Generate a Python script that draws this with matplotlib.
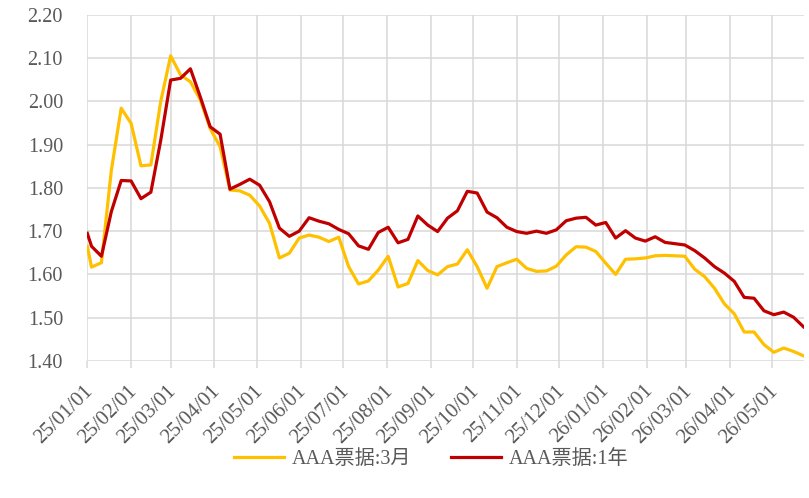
import matplotlib.pyplot as plt
import matplotlib.dates as mdates
from matplotlib.transforms import ScaledTranslation
import pandas as pd

# weekly dates: first point on 25/01/01, then weekly
dates = pd.DatetimeIndex(["2025-01-01"]).append(
    pd.date_range("2025-01-04", periods=73, freq="7D")
)

bill_3m = [
    1.665, 1.617, 1.627, 1.840, 1.984, 1.949, 1.851, 1.853, 2.000, 2.105,
    2.061, 2.045, 2.003, 1.937, 1.895, 1.795, 1.793, 1.783, 1.758, 1.718,
    1.638, 1.649, 1.684, 1.691, 1.686, 1.676, 1.686, 1.618, 1.578, 1.585,
    1.610, 1.642, 1.571, 1.579, 1.632, 1.609, 1.599, 1.618, 1.624, 1.657,
    1.618, 1.568, 1.618, 1.627, 1.635, 1.614, 1.607, 1.608, 1.619, 1.645,
    1.664, 1.663, 1.653, 1.626, 1.600, 1.635, 1.636, 1.638, 1.643, 1.644,
    1.643, 1.642, 1.612, 1.595, 1.568, 1.532, 1.509, 1.467, 1.467, 1.438,
    1.420, 1.430, 1.422, 1.412,
]

bill_1y = [
    1.695, 1.665, 1.642, 1.745, 1.817, 1.816, 1.775, 1.790, 1.910, 2.049,
    2.053, 2.075, 2.010, 1.941, 1.924, 1.797, 1.808, 1.820, 1.806, 1.768,
    1.707, 1.688, 1.700, 1.731, 1.723, 1.717, 1.704, 1.694, 1.666, 1.658,
    1.697, 1.709, 1.673, 1.681, 1.735, 1.714, 1.699, 1.730, 1.747, 1.792,
    1.788, 1.744, 1.731, 1.709, 1.699, 1.695, 1.700, 1.695, 1.703, 1.724,
    1.730, 1.732, 1.714, 1.720, 1.684, 1.701, 1.684, 1.677, 1.687, 1.674,
    1.671, 1.668, 1.655, 1.638, 1.618, 1.603, 1.584, 1.547, 1.545, 1.516,
    1.507, 1.513, 1.501, 1.479,
]

labels = ["AAA票据:3月", "AAA票据:1年"]

plt.rcParams["font.family"] = ["Liberation Serif", "Noto Sans CJK SC"]

fig = plt.figure(figsize=(8.09, 4.98), dpi=100)
ax = fig.add_axes([87.3 / 809, 1 - 361 / 498, (803.5 - 87.3) / 809, (361 - 14.7) / 498])

ax.plot(dates, bill_3m, color="#FFC000", lw=2.3, label=labels[0], zorder=3)
ax.plot(dates, bill_1y, color="#C00000", lw=2.3, label=labels[1], zorder=4)

ax.set_ylim(1.40, 2.20)
ax.set_yticks([1.40 + 0.1 * i for i in range(9)])
ax.yaxis.set_major_formatter(plt.FuncFormatter(lambda v, p: f"{v:.2f}"))
ax.set_xlim(dates[0], dates[-1])
ax.xaxis.set_major_locator(mdates.MonthLocator())
ax.xaxis.set_major_formatter(mdates.DateFormatter("%y/%m/%d"))

ax.grid(True, color="#d9d9d9", lw=1.1)
ax.set_axisbelow(True)
for s in ax.spines.values():
    s.set_visible(False)

ax.tick_params(axis="y", length=0, pad=17.5, labelsize=14.5, labelcolor="#595959")
ax.tick_params(axis="x", length=5, width=1.1, color="#d9d9d9", pad=14.5,
               labelsize=15, labelcolor="#595959")
off = ScaledTranslation(3 / 100, 0, fig.dpi_scale_trans)
for t in ax.get_xticklabels():
    t.set_rotation(45)
    t.set_ha("right")
    t.set_va("center")
    t.set_rotation_mode("anchor")
    t.set_transform(t.get_transform() + off)

fig.legend(loc="center", bbox_to_anchor=(431 / 809, 1 - 459 / 498), ncol=2,
           frameon=False, fontsize=14.5, handlelength=2.5, handletextpad=0.35,
           columnspacing=2.0, labelcolor="#595959")

fig.savefig("out.png", dpi=100)
